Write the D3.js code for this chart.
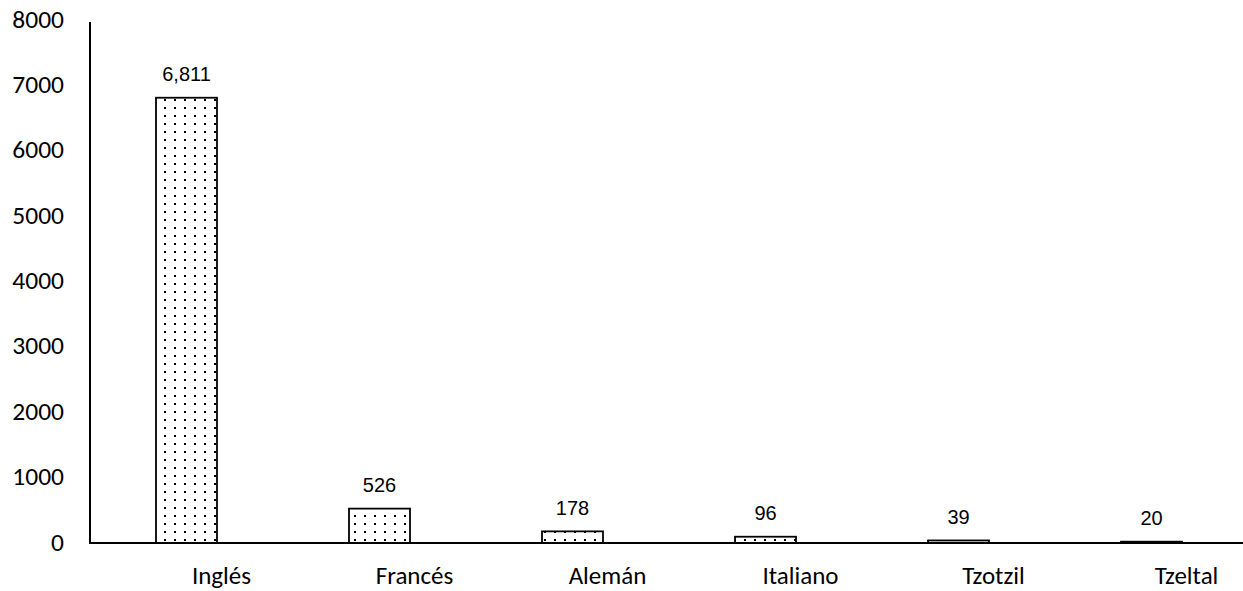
<!DOCTYPE html>
<html><head><meta charset="utf-8">
<script src="https://cdn.jsdelivr.net/npm/d3@7"></script>
<style>body{margin:0;background:#fff}svg{display:block}</style>
</head><body>
<script>
const categories = ["Inglés","Francés","Alemán","Italiano","Tzotzil","Tzeltal"];
const values = [6811,526,178,96,39,20];
const valueLabels = ["6,811","526","178","96","39","20"];
const yTicks = [0,1000,2000,3000,4000,5000,6000,7000,8000];

const W=1243,H=591;
const svg=d3.select("body").append("svg").attr("width",W).attr("height",H);
const defs=svg.append("defs");
const pat=defs.append("pattern").attr("id","dots").attr("patternUnits","userSpaceOnUse")
  .attr("width",10).attr("height",8);
pat.append("rect").attr("width",10).attr("height",8).attr("fill","#fff");
pat.append("rect").attr("x",4).attr("y",3).attr("width",2).attr("height",2).attr("fill","#000");

const x=d3.scaleBand().domain(categories).range([90,1248]).paddingInner(0.684).paddingOuter(0.342);
const y=d3.scaleLinear().domain([0,8000]).range([543,20]);
const calFont="Carlito, 'Open Sans', sans-serif";

// y tick labels
svg.append("g").selectAll("text").data(yTicks).join("text")
  .attr("x",64).attr("y",d=>y(d)+7.5).attr("text-anchor","end")
  .attr("font-family",calFont).attr("font-size",25.5).attr("fill","#000")
  .text(d=>d);

// bars
svg.append("g").selectAll("rect").data(values).join("rect")
  .attr("x",(d,i)=>x(categories[i])).attr("width",x.bandwidth())
  .attr("y",d=>y(d)).attr("height",d=>y(0)-y(d))
  .attr("fill","url(#dots)").attr("stroke","#000").attr("stroke-width",1.8);

// value labels
svg.append("g").selectAll("text").data(values).join("text")
  .attr("x",(d,i)=>x(categories[i])+x.bandwidth()/2).attr("y",d=>y(d)-24).attr("dy","0.36em")
  .attr("text-anchor","middle").attr("font-family","'Liberation Sans', Arial, sans-serif")
  .attr("font-size",20).attr("fill","#000").text((d,i)=>valueLabels[i]);

// axes lines
svg.append("line").attr("x1",90).attr("x2",90).attr("y1",22).attr("y2",544)
  .attr("stroke","#000").attr("stroke-width",2);
svg.append("line").attr("x1",89).attr("x2",1243).attr("y1",543).attr("y2",543)
  .attr("stroke","#000").attr("stroke-width",2);

// category labels
svg.append("g").selectAll("text").data(categories).join("text")
  .attr("x",d=>x(d)+x.bandwidth()/2+35).attr("y",584)
  .attr("text-anchor","middle").attr("font-family",calFont)
  .attr("font-size",25).attr("fill","#000").text(d=>d);
</script>
</body></html>
